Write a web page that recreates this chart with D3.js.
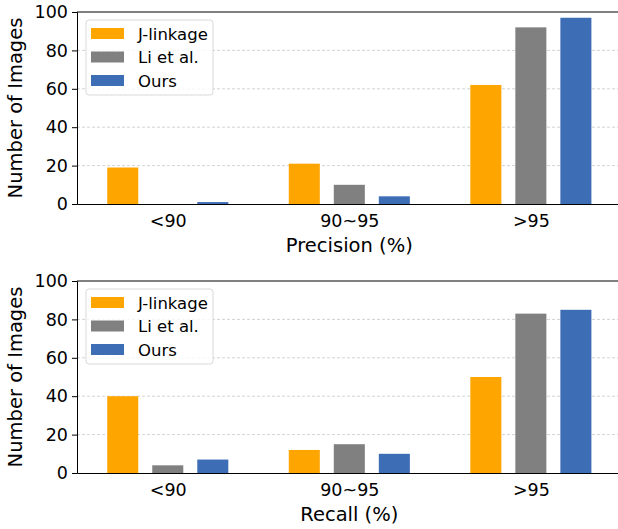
<!DOCTYPE html>
<html>
<head>
<meta charset="utf-8">
<script src="https://cdn.jsdelivr.net/npm/d3@7"></script>
<style>
  body { margin: 0; background: #fff; }
  svg text { font-family: "DejaVu Sans", sans-serif; fill: #000; }
  .grid line { stroke: #c8c8c8; stroke-dasharray: 3,2; stroke-width: 0.8; }
</style>
</head>
<body>
<div id="chart"></div>
<script>
// data
var categories = ["<90", "90~95", ">95"];
var methods = ["J-linkage", "Li et al.", "Ours"];
var colors = ["#ffa500", "#808080", "#3d6db5"];
var yTicks = [0, 20, 40, 60, 80, 100];

var precisionJ = [19, 21, 62];
var precisionLi = [0, 10, 92];
var precisionOurs = [1, 4, 97];

var recallJ = [40, 12, 50];
var recallLi = [4, 15, 83];
var recallOurs = [7, 10, 85];

var svg = d3.select("#chart").append("svg")
    .attr("width", 618)
    .attr("height", 529);

function drawPanel(top, series, xLabel) {
    var margin = {left: 77, top: top};
    var width = 618 - margin.left;
    var height = 192;

    var g = svg.append("g")
        .attr("transform", "translate(" + margin.left + "," + margin.top + ")");

    var xScale = d3.scaleLinear()
        .domain([-0.5, 2.48])
        .range([0, width]);

    var yScale = d3.scaleLinear()
        .domain([0, 100])
        .range([height, 0]);

    // gridlines
    g.append("g")
        .attr("class", "grid")
        .selectAll("line")
        .data(yTicks.filter(function(d) { return d > 0 && d < 100; }))
        .enter().append("line")
        .attr("x1", 0)
        .attr("x2", width)
        .attr("y1", function(d) { return yScale(d); })
        .attr("y2", function(d) { return yScale(d); });

    // bars
    var offset = 0.248, barW = 0.171;
    series.forEach(function(vals, k) {
        g.selectAll(".bar-" + k)
            .data(vals)
            .enter().append("rect")
            .attr("class", "bar-" + k)
            .attr("x", function(d, i) { return xScale(i + (k - 1) * offset - barW / 2); })
            .attr("width", xScale(barW) - xScale(0))
            .attr("y", function(d) { return yScale(d); })
            .attr("height", function(d) { return height - yScale(d); })
            .attr("fill", colors[k]);
    });

    // top spine
    g.append("line").attr("x1", 0).attr("x2", width).attr("y1", 0).attr("y2", 0)
        .attr("stroke", "#000").attr("stroke-width", 1);

    var yAxis = d3.axisLeft(yScale).tickValues(yTicks).tickSize(5).tickPadding(4);
    var ya = g.append("g").call(yAxis);
    ya.select(".domain").attr("stroke", "#000");
    ya.selectAll("text").style("font-size", "17.5px").attr("fill", "#000");

    var xAxis = d3.axisBottom(xScale)
        .tickValues([0, 1, 2])
        .tickFormat(function(d) { return categories[d]; })
        .tickSize(0).tickPadding(11);
    var xa = g.append("g").attr("transform", "translate(0," + height + ")").call(xAxis);
    xa.select(".domain").attr("stroke", "#000");
    xa.selectAll("text").style("font-size", "17.5px").attr("fill", "#000");

    // axis labels
    g.append("text")
        .attr("x", xScale(1))
        .attr("y", height + 48)
        .attr("text-anchor", "middle")
        .style("font-size", "19.5px")
        .text(xLabel);

    g.append("text")
        .attr("transform", "translate(" + (-55) + "," + (height / 2) + ") rotate(-90)")
        .attr("text-anchor", "middle")
        .style("font-size", "19.5px")
        .text("Number of Images");

    // legend
    var lg = g.append("g").attr("transform", "translate(9,8)");
    lg.append("rect")
        .attr("width", 127).attr("height", 75)
        .attr("rx", 3).attr("ry", 3)
        .attr("fill", "#fff").attr("fill-opacity", 0.8)
        .attr("stroke", "#d9d9d9");
    methods.forEach(function(m, k) {
        lg.append("rect")
            .attr("x", 5).attr("y", 8 + k * 23.5)
            .attr("width", 33).attr("height", 11)
            .attr("fill", colors[k]);
        lg.append("text")
            .attr("x", 52).attr("y", 19.5 + k * 23.5)
            .style("font-size", "16.5px")
            .text(m);
    });
}

drawPanel(12, [precisionJ, precisionLi, precisionOurs], "Precision (%)");
drawPanel(281, [recallJ, recallLi, recallOurs], "Recall (%)");
</script>
</body>
</html>
